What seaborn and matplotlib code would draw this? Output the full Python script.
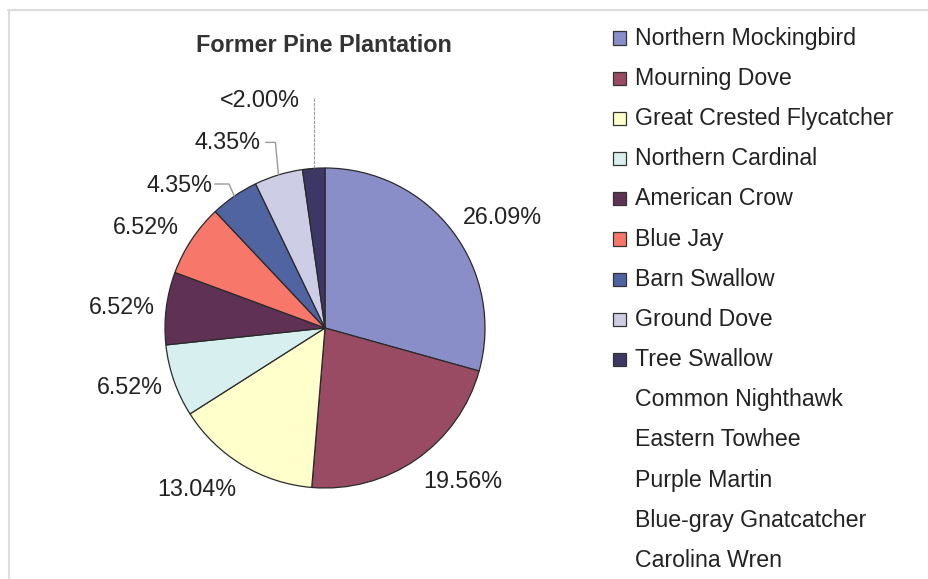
import numpy as np
import matplotlib
matplotlib.use("Agg")
import matplotlib.pyplot as plt
from matplotlib.patches import Rectangle
from matplotlib.lines import Line2D
import seaborn as sns

# Bird survey shares, former pine plantation
species = [
    "Northern Mockingbird", "Mourning Dove", "Great Crested Flycatcher",
    "Northern Cardinal", "American Crow", "Blue Jay", "Barn Swallow",
    "Ground Dove", "Tree Swallow",
]
shares = [26.09, 19.56, 13.04, 6.52, 6.52, 6.52, 4.35, 4.35, 2.0]
share_labels = ["26.09%", "19.56%", "13.04%", "6.52%", "6.52%", "6.52%",
                "4.35%", "4.35%", "<2.00%"]
unplotted_species = ["Common Nighthawk", "Eastern Towhee", "Purple Martin",
                     "Blue-gray Gnatcatcher", "Carolina Wren"]
colors = ["#8A8EC8", "#9A4B64", "#FFFFCC", "#D7F0EF", "#5F3255",
          "#F7776A", "#4F64A0", "#CDCDE6", "#3C3764"]

sns.set_theme(style="white")
plt.rcParams["font.family"] = ["Liberation Sans", "DejaVu Sans"]

W, H = 929, 579
fig = plt.figure(figsize=(W / 100, H / 100), dpi=100)
fig.patch.set_facecolor("white")

# pie axes: square box in pixel space, 1 data unit = 160 px
cx, cy, R = 325, 328, 160
half = 200
ax = fig.add_axes([(cx - half) / W, (H - cy - half) / H, 2 * half / W, 2 * half / H])
ax.set_xlim(-half / R, half / R)
ax.set_ylim(-half / R, half / R)
ax.set_aspect("equal")
ax.axis("off")

wedges, _ = ax.pie(shares, colors=colors, startangle=90, counterclock=False,
                   radius=1.0, wedgeprops=dict(edgecolor="#2a2a2a", linewidth=0.9))

# label placement in data units
label_pos = [(1.11, 0.69), (0.86, -0.96), (-0.80, -1.01), (-1.22, -0.37),
             (-1.27, 0.13), (-1.12, 0.63), (-0.91, 0.89), (-0.61, 1.16),
             (-0.41, 1.42)]
for (x, y), txt in zip(label_pos, share_labels):
    ax.text(x, y, txt, ha="center", va="center", fontsize=16.8, color="#222222")

# leader lines for the small wedges
def edge_point(w, r=1.0):
    a = np.deg2rad((w.theta1 + w.theta2) / 2)
    return r * np.cos(a), r * np.sin(a)

ex, ey = edge_point(wedges[6])
ax.add_line(Line2D([-0.69, -0.60, ex], [0.90, 0.90, ey], color="#9a9a9a",
                   lw=1.0, clip_on=False))
ex, ey = edge_point(wedges[7])
ax.add_line(Line2D([-0.37, -0.31, ex], [1.16, 1.16, ey], color="#9a9a9a",
                   lw=1.0, clip_on=False))
ex, ey = edge_point(wedges[8])
ax.add_line(Line2D([ex, ex], [1.44, ey], color="#9a9a9a", lw=0.8,
                   ls=(0, (3, 1)), clip_on=False))

# title
fig.text(324 / W, 1 - 45 / H, "Former Pine Plantation", ha="center", va="center",
         fontsize=16.8, fontweight="bold", color="#333333")

# legend built in pixel space
def px(x, y):
    return x / W, 1 - y / H

row_y = [38 + 40.2 * i for i in range(len(species) + len(unplotted_species))]
for i, name in enumerate(species + unplotted_species):
    y = row_y[i]
    if i < len(species):
        x0, y0 = px(613, y + 6.5)
        fig.patches.append(Rectangle((x0, y0), 13 / W, 13 / H, transform=fig.transFigure,
                                     facecolor=colors[i], edgecolor="#333333", lw=0.9))
    tx, ty = px(635, y)
    fig.text(tx, ty, name, ha="left", va="center", fontsize=16.7, color="#222222")

# faint frame edges
fig.add_artist(Line2D([8 / W, 1], [1 - 10 / H, 1 - 10 / H], color="#dcdcdc", lw=1.5,
                      transform=fig.transFigure))
fig.add_artist(Line2D([9 / W, 9 / W], [0, 1 - 10 / H], color="#dcdcdc", lw=1.5,
                      transform=fig.transFigure))

fig.savefig("out.png", dpi=100, facecolor="white")
